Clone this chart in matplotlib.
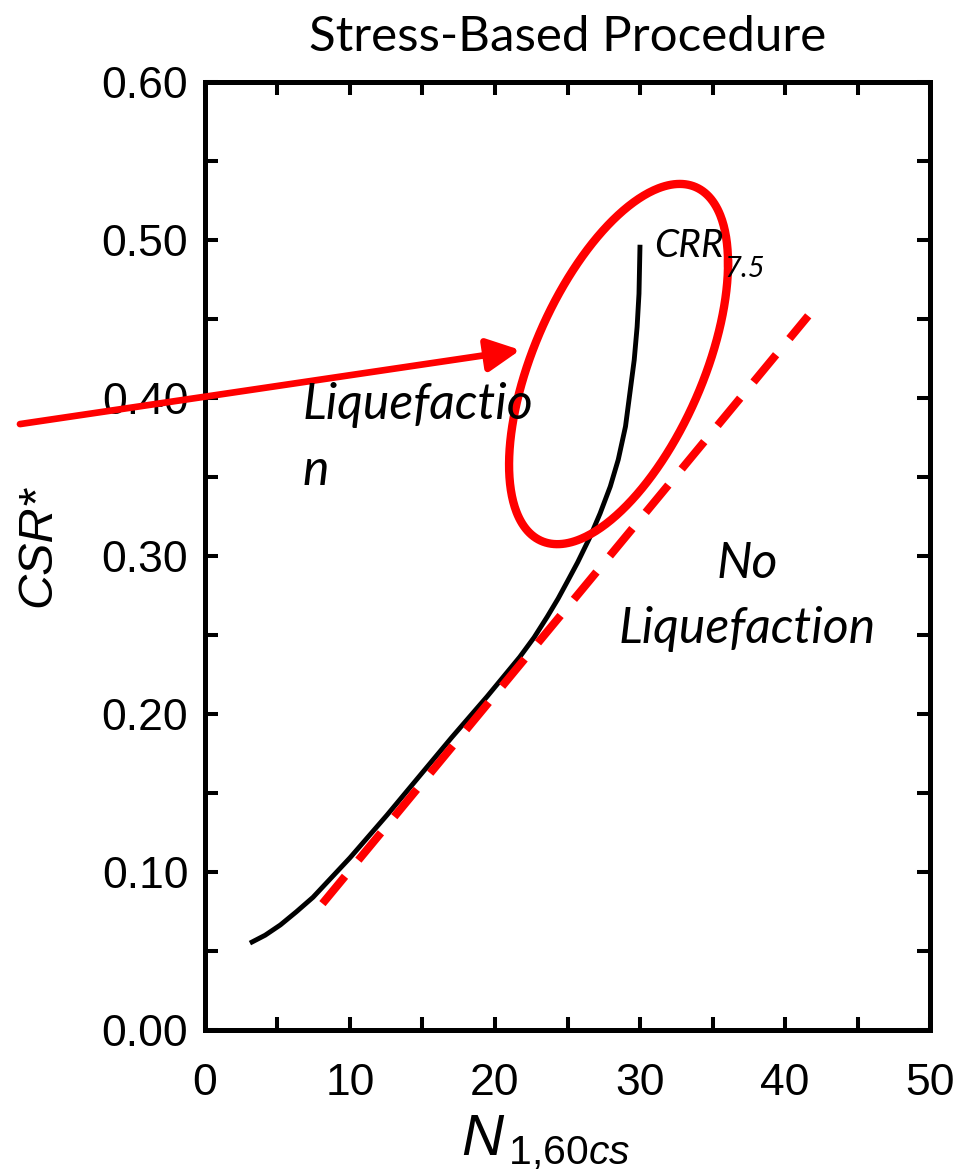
import numpy as np
import matplotlib
matplotlib.use('Agg')
import matplotlib.pyplot as plt

plt.rcParams['font.family'] = ['Liberation Sans', 'DejaVu Sans']
plt.rcParams['mathtext.fontset'] = 'custom'
plt.rcParams['mathtext.it'] = 'Liberation Sans:italic'
plt.rcParams['mathtext.rm'] = 'Liberation Sans'

# CRR7.5 curve
n160 = [3.1, 4.15, 5.2, 6.3, 7.45, 10.0, 12.55, 15.0, 17.0, 19.45, 21.7, 22.7,
        23.6, 24.35, 25.0, 25.7, 26.55, 27.25, 27.95, 28.5, 29.0, 29.3, 29.6,
        29.8, 29.93, 30.0]
crr = [0.055, 0.060, 0.0665, 0.0748, 0.084, 0.109, 0.136, 0.163, 0.185, 0.211, 0.236, 0.2485,
       0.2615, 0.273, 0.284, 0.296, 0.312, 0.327, 0.344, 0.361, 0.382, 0.403, 0.424,
       0.445, 0.466, 0.497]

# red dashed straight line
dash_n = [8.1, 41.6]
dash_csr = [0.08, 0.452]

# highlight ellipse (centre, half widths, tilt phase)
ell_cx, ell_cy = 28.52, 0.4215
ell_rx, ell_ry = 7.55, 0.114
ell_phase = np.deg2rad(34)

# arrow from outside the axes into the ellipse
arrow_start = (-12.76, 0.3835)
arrow_end = (21.75, 0.4304)

x_major = [0, 10, 20, 30, 40, 50]
y_major = [0.0, 0.1, 0.2, 0.3, 0.4, 0.5, 0.6]

futura = ['Lato', 'DejaVu Sans']

fig = plt.figure(figsize=(9.71, 11.75), dpi=100)
ax = fig.add_axes([0.2111, 0.1234, 0.7467, 0.8068])

ax.plot(n160, crr, color='black', lw=3.5, solid_capstyle='butt',
        solid_joinstyle='round')
ax.plot(dash_n, dash_csr, color='#ff0000', lw=5.8, linestyle=(0, (4.4, 2.6)),
        dash_capstyle='butt')

t = np.linspace(0, 2 * np.pi, 400)
ax.plot(ell_cx + ell_rx * np.cos(t), ell_cy + ell_ry * np.sin(t + ell_phase),
        color='#ff0000', lw=6)

ax.annotate('', xy=arrow_end, xytext=arrow_start, xycoords='data',
            annotation_clip=False,
            arrowprops=dict(arrowstyle='-|>,head_length=1.0,head_width=0.5',
                            color='#ff0000', lw=4.8, shrinkA=0, shrinkB=0,
                            mutation_scale=20))

ax.set_xlim(0, 50)
ax.set_ylim(0, 0.6)
ax.set_xticks(x_major)
ax.set_xticks([5, 15, 25, 35, 45], minor=True)
ax.set_yticks(y_major)
ax.set_yticks([0.05, 0.15, 0.25, 0.35, 0.45, 0.55], minor=True)
ax.set_xticklabels([str(v) for v in x_major])
ax.set_yticklabels([f'{v:.2f}' for v in y_major])
ax.tick_params(which='both', direction='in', top=True, right=True,
               length=9.5, width=2.9)
ax.tick_params(axis='y', labelsize=32, pad=12)
ax.tick_params(axis='x', labelsize=32, pad=24)
for s in ax.spines.values():
    s.set_linewidth(3.6)

ax.set_ylabel('CSR*', fontsize=35, style='italic')
ax.yaxis.set_label_coords(-0.2, 0.51)
ax.set_xlabel(r'$N_{\,\mathrm{1{,}60}cs}$', fontsize=42)
ax.xaxis.set_label_coords(0.47, -0.088)
ax.xaxis.label.set_va('top')

ax.set_title('Stress-Based Procedure', fontsize=35.5, family=futura, pad=22)

ax.text(6.7, 0.345, 'Liquefactio\nn', fontsize=36, style='italic', family=futura,
        ha='left', va='baseline', linespacing=1.55)
ax.text(37.4, 0.245, 'No\nLiquefaction', fontsize=36, style='italic', family=futura,
        ha='center', va='baseline', linespacing=1.5)
crr_lbl = ax.text(31.0, 0.489, 'CRR', fontsize=28, style='italic', family=futura,
                  ha='left', va='baseline')
ax.annotate('7.5', xy=(1.0, 0.0), xycoords=crr_lbl, xytext=(0, -9),
            textcoords='offset points', fontsize=21, style='italic',
            family=futura, ha='left', va='baseline')

fig.savefig('out.png', dpi=100)
